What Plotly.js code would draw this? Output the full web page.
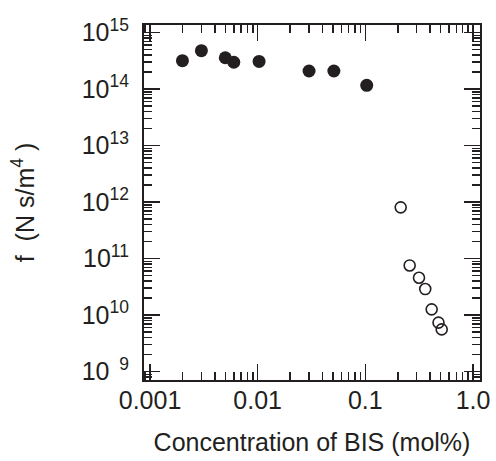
<!DOCTYPE html>
<html>
<head>
<meta charset="utf-8">
<script src="https://cdn.plot.ly/plotly-3.0.1.min.js"></script>
<style>html,body{margin:0;padding:0;background:#fff;}#chart{width:496px;height:461px;}</style>
</head>
<body>
<div id="chart"></div>
<script>
// Filled circles (gel regime)
const filledX = [0.002, 0.003, 0.005, 0.006, 0.0103, 0.03, 0.051, 0.103];
const filledY = [3.2e14, 4.8e14, 3.6e14, 3.0e14, 3.1e14, 2.1e14, 2.1e14, 1.17e14];
// Open circles
const openX = [0.213, 0.258, 0.315, 0.36, 0.413, 0.478, 0.512];
const openY = [8.1e11, 7.6e10, 4.6e10, 2.9e10, 1.27e10, 7.4e9, 5.6e9];

const xTickVals = [0.001, 0.01, 0.1, 1];
const xTickText = ['0.001', '0.01', '0.1', '1.0'];
const yTickVals = [1e9, 1e10, 1e11, 1e12, 1e13, 1e14, 1e15];
const yExp = ['\u00a0\u00a09', '10', '11', '12', '13', '14', '15'];
const yTickText = yExp.map(e => '10<sup>' + e + '</sup>');

const ink = '#231f20';
const font = 'Liberation Sans, Arial, sans-serif';

const traces = [
  {x: filledX, y: filledY, type: 'scatter', mode: 'markers',
   marker: {symbol: 'circle', size: 13, color: ink, line: {width: 0}}},
  {x: openX, y: openY, type: 'scatter', mode: 'markers',
   marker: {symbol: 'circle-open', size: 11, color: ink, line: {width: 1.6, color: ink}}}
];

const axisCommon = {
  type: 'log', showgrid: false, zeroline: false,
  showline: true, linecolor: ink, linewidth: 2, mirror: 'allticks',
  ticks: 'inside', ticklen: 16, tickwidth: 1.5, tickcolor: ink,
  tickmode: 'array',
  minor: {ticks: 'inside', ticklen: 8, tickwidth: 1.5, tickcolor: ink, dtick: 'D1', showgrid: false},
  tickfont: {family: font, size: 24, color: ink}
};

const layout = {
  width: 496, height: 461,
  margin: {l: 144, r: 16, t: 25, b: 81},
  paper_bgcolor: '#fff', plot_bgcolor: '#fff',
  showlegend: false,
  font: {family: font, color: ink},
  xaxis: Object.assign({}, axisCommon, {
    range: [-3.056, 0.065],
    tickvals: xTickVals, ticktext: xTickText,
    tickfont: {family: font, size: 25, color: ink},
    ticklabelstandoff: -3,
    title: {text: 'Concentration of BIS (mol%)', font: {family: font, size: 25, color: ink}, standoff: 20}
  }),
  yaxis: Object.assign({}, axisCommon, {
    range: [8.853, 15.136],
    tickvals: yTickVals, ticktext: yTickText,
    tickfont: {family: font, size: 25, color: ink},
    ticklabelstandoff: 8,
    title: {text: 'f  (N s/m<sup>4</sup> )', font: {family: font, size: 25, color: ink}, standoff: 40}
  })
};

Plotly.newPlot('chart', traces, layout, {displayModeBar: false, staticPlot: true});
</script>
</body>
</html>
